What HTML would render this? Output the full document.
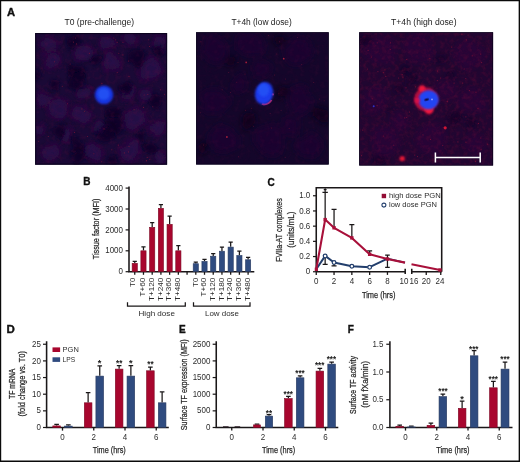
<!DOCTYPE html>
<html lang="en"><head><meta charset="utf-8"><title>Figure</title>
<style>
html,body{margin:0;padding:0;background:#fff}
body{width:520px;height:462px;overflow:hidden}
svg{display:block}
text{font-family:"Liberation Sans",sans-serif}
</style></head><body>
<svg width="520" height="462" viewBox="0 0 520 462">
<defs>
<filter id="b1" x="-50%" y="-50%" width="200%" height="200%"><feGaussianBlur stdDeviation="1"/></filter>
<filter id="b2" x="-50%" y="-50%" width="200%" height="200%"><feGaussianBlur stdDeviation="2.2"/></filter>
<filter id="b4" x="-50%" y="-50%" width="200%" height="200%"><feGaussianBlur stdDeviation="4"/></filter>
<filter id="b05" x="-50%" y="-50%" width="200%" height="200%"><feGaussianBlur stdDeviation="0.5"/></filter>
<filter id="wob" x="-10%" y="-10%" width="120%" height="120%"><feTurbulence type="fractalNoise" baseFrequency="0.06" numOctaves="2" seed="4" result="t"/><feDisplacementMap in="SourceGraphic" in2="t" scale="10" xChannelSelector="R" yChannelSelector="G"/></filter>
<filter id="spk" x="0" y="0" width="100%" height="100%" color-interpolation-filters="sRGB"><feTurbulence type="fractalNoise" baseFrequency="0.22" numOctaves="3" seed="7"/><feColorMatrix type="matrix" values="0 0 0 0 0.55  0 0 0 0 0.05  0 0 0 0 0.22  1.5 0 0 0 -0.62"/></filter>
<filter id="spk2" x="0" y="0" width="100%" height="100%" color-interpolation-filters="sRGB"><feTurbulence type="fractalNoise" baseFrequency="0.2" numOctaves="3" seed="11"/><feColorMatrix type="matrix" values="0 0 0 0 0.42  0 0 0 0 0.05  0 0 0 0 0.25  1.6 0 0 0 -0.72"/></filter>
<filter id="wob4" x="-10%" y="-10%" width="120%" height="120%"><feTurbulence type="fractalNoise" baseFrequency="0.05" numOctaves="2" seed="9" result="t"/><feDisplacementMap in="SourceGraphic" in2="t" scale="14" xChannelSelector="R" yChannelSelector="G"/><feGaussianBlur stdDeviation="3.2"/></filter>
<clipPath id="c1"><rect x="35.1" y="33" width="132" height="131.7"/></clipPath>
<clipPath id="c2"><rect x="196.1" y="32.2" width="132.6" height="132.3"/></clipPath>
<clipPath id="c3"><rect x="359.2" y="32.2" width="133.9" height="133.4"/></clipPath>
</defs>
<rect width="520" height="462" fill="#fff"/>

<g clip-path="url(#c1)">
<rect x="35" y="32" width="133" height="133" fill="#1a0936"/>
<g filter="url(#wob)">
<circle cx="49" cy="43" r="10" fill="#300e3e" opacity="0.55" filter="url(#b2)"/>
<circle cx="49" cy="43" r="7.2" fill="#25114c" opacity="0.72" filter="url(#b2)"/>
<circle cx="52" cy="60" r="11" fill="#300e3e" opacity="0.55" filter="url(#b2)"/>
<circle cx="52" cy="60" r="7.9" fill="#25114c" opacity="0.72" filter="url(#b2)"/>
<circle cx="85" cy="52" r="10" fill="#300e3e" opacity="0.55" filter="url(#b2)"/>
<circle cx="85" cy="52" r="7.2" fill="#25114c" opacity="0.72" filter="url(#b2)"/>
<circle cx="107" cy="43" r="9" fill="#300e3e" opacity="0.55" filter="url(#b2)"/>
<circle cx="107" cy="43" r="6.5" fill="#25114c" opacity="0.72" filter="url(#b2)"/>
<circle cx="112" cy="62" r="11" fill="#300e3e" opacity="0.55" filter="url(#b2)"/>
<circle cx="112" cy="62" r="7.9" fill="#25114c" opacity="0.72" filter="url(#b2)"/>
<circle cx="150" cy="69" r="13" fill="#300e3e" opacity="0.55" filter="url(#b2)"/>
<circle cx="150" cy="69" r="9.4" fill="#25114c" opacity="0.72" filter="url(#b2)"/>
<circle cx="160" cy="42" r="9" fill="#300e3e" opacity="0.55" filter="url(#b2)"/>
<circle cx="160" cy="42" r="6.5" fill="#25114c" opacity="0.72" filter="url(#b2)"/>
<circle cx="130" cy="40" r="8" fill="#300e3e" opacity="0.55" filter="url(#b2)"/>
<circle cx="130" cy="40" r="5.8" fill="#25114c" opacity="0.72" filter="url(#b2)"/>
<circle cx="44" cy="100" r="9" fill="#300e3e" opacity="0.55" filter="url(#b2)"/>
<circle cx="44" cy="100" r="6.5" fill="#25114c" opacity="0.72" filter="url(#b2)"/>
<circle cx="58" cy="108" r="13" fill="#300e3e" opacity="0.55" filter="url(#b2)"/>
<circle cx="58" cy="108" r="9.4" fill="#25114c" opacity="0.72" filter="url(#b2)"/>
<circle cx="81" cy="115" r="11" fill="#300e3e" opacity="0.55" filter="url(#b2)"/>
<circle cx="81" cy="115" r="7.9" fill="#25114c" opacity="0.72" filter="url(#b2)"/>
<circle cx="84" cy="92" r="8" fill="#300e3e" opacity="0.55" filter="url(#b2)"/>
<circle cx="84" cy="92" r="5.8" fill="#25114c" opacity="0.72" filter="url(#b2)"/>
<circle cx="135" cy="118" r="14" fill="#300e3e" opacity="0.55" filter="url(#b2)"/>
<circle cx="135" cy="118" r="10.1" fill="#25114c" opacity="0.72" filter="url(#b2)"/>
<circle cx="157" cy="128" r="10" fill="#300e3e" opacity="0.55" filter="url(#b2)"/>
<circle cx="157" cy="128" r="7.2" fill="#25114c" opacity="0.72" filter="url(#b2)"/>
<circle cx="128" cy="92" r="9" fill="#300e3e" opacity="0.55" filter="url(#b2)"/>
<circle cx="128" cy="92" r="6.5" fill="#25114c" opacity="0.72" filter="url(#b2)"/>
<circle cx="146" cy="95" r="7" fill="#300e3e" opacity="0.55" filter="url(#b2)"/>
<circle cx="146" cy="95" r="5.0" fill="#25114c" opacity="0.72" filter="url(#b2)"/>
<circle cx="52" cy="153" r="10" fill="#300e3e" opacity="0.55" filter="url(#b2)"/>
<circle cx="52" cy="153" r="7.2" fill="#25114c" opacity="0.72" filter="url(#b2)"/>
<circle cx="92" cy="153" r="12" fill="#300e3e" opacity="0.55" filter="url(#b2)"/>
<circle cx="92" cy="153" r="8.6" fill="#25114c" opacity="0.72" filter="url(#b2)"/>
<circle cx="130" cy="151" r="13" fill="#300e3e" opacity="0.55" filter="url(#b2)"/>
<circle cx="130" cy="151" r="9.4" fill="#25114c" opacity="0.72" filter="url(#b2)"/>
<circle cx="160" cy="158" r="8" fill="#300e3e" opacity="0.55" filter="url(#b2)"/>
<circle cx="160" cy="158" r="5.8" fill="#25114c" opacity="0.72" filter="url(#b2)"/>
<circle cx="100" cy="128" r="7" fill="#300e3e" opacity="0.55" filter="url(#b2)"/>
<circle cx="100" cy="128" r="5.0" fill="#25114c" opacity="0.72" filter="url(#b2)"/>
<circle cx="40" cy="128" r="7" fill="#300e3e" opacity="0.55" filter="url(#b2)"/>
<circle cx="40" cy="128" r="5.0" fill="#25114c" opacity="0.72" filter="url(#b2)"/>
<circle cx="66" cy="135" r="8" fill="#300e3e" opacity="0.55" filter="url(#b2)"/>
<circle cx="66" cy="135" r="5.8" fill="#25114c" opacity="0.72" filter="url(#b2)"/>
<circle cx="72" cy="41" r="7.8" fill="#0a0428" opacity="0.95" filter="url(#b2)"/>
<circle cx="75" cy="72" r="9.1" fill="#0a0428" opacity="0.95" filter="url(#b2)"/>
<circle cx="76" cy="80" r="7.8" fill="#0a0428" opacity="0.95" filter="url(#b2)"/>
<circle cx="137" cy="57" r="7.8" fill="#0a0428" opacity="0.95" filter="url(#b2)"/>
<circle cx="158" cy="50" r="5.2" fill="#0a0428" opacity="0.95" filter="url(#b2)"/>
<circle cx="125" cy="88" r="6.5" fill="#0a0428" opacity="0.95" filter="url(#b2)"/>
<circle cx="114" cy="112" r="7.8" fill="#0a0428" opacity="0.95" filter="url(#b2)"/>
<circle cx="115" cy="126" r="9.1" fill="#0a0428" opacity="0.95" filter="url(#b2)"/>
<circle cx="106" cy="134" r="7.8" fill="#0a0428" opacity="0.95" filter="url(#b2)"/>
<circle cx="156" cy="101" r="6.5" fill="#0a0428" opacity="0.95" filter="url(#b2)"/>
<circle cx="78" cy="146" r="7.8" fill="#0a0428" opacity="0.95" filter="url(#b2)"/>
<circle cx="79" cy="157" r="6.5" fill="#0a0428" opacity="0.95" filter="url(#b2)"/>
<circle cx="55" cy="85" r="5.2" fill="#0a0428" opacity="0.95" filter="url(#b2)"/>
<circle cx="58" cy="131" r="6.5" fill="#0a0428" opacity="0.95" filter="url(#b2)"/>
<circle cx="151" cy="149" r="6.5" fill="#0a0428" opacity="0.95" filter="url(#b2)"/>
<circle cx="94" cy="60" r="5.2" fill="#0a0428" opacity="0.95" filter="url(#b2)"/>
<circle cx="38" cy="75" r="5.2" fill="#0a0428" opacity="0.95" filter="url(#b2)"/>
<circle cx="112" cy="160" r="5.2" fill="#0a0428" opacity="0.95" filter="url(#b2)"/>
<circle cx="142" cy="138" r="5.2" fill="#0a0428" opacity="0.95" filter="url(#b2)"/>
</g>
<rect x="35" y="32" width="133" height="133" filter="url(#spk2)" opacity="0.3"/>
<circle cx="67.5" cy="103.7" r="0.55" fill="#8a1838" opacity="0.7"/>
<circle cx="84.4" cy="111.3" r="0.55" fill="#8a1838" opacity="0.7"/>
<circle cx="117.1" cy="42.4" r="0.55" fill="#8a1838" opacity="0.7"/>
<circle cx="38.7" cy="141.2" r="0.55" fill="#8a1838" opacity="0.7"/>
<circle cx="70.2" cy="64.0" r="0.55" fill="#8a1838" opacity="0.7"/>
<circle cx="164.4" cy="94.2" r="0.55" fill="#8a1838" opacity="0.7"/>
<circle cx="144.1" cy="95.0" r="0.55" fill="#8a1838" opacity="0.7"/>
<circle cx="118.8" cy="53.3" r="0.55" fill="#8a1838" opacity="0.7"/>
<circle cx="118.3" cy="145.1" r="0.55" fill="#8a1838" opacity="0.7"/>
<circle cx="104.0" cy="128.9" r="0.55" fill="#8a1838" opacity="0.7"/>
<circle cx="122.9" cy="42.2" r="0.55" fill="#8a1838" opacity="0.7"/>
<circle cx="134.1" cy="109.7" r="0.55" fill="#8a1838" opacity="0.7"/>
<circle cx="75.6" cy="38.0" r="0.55" fill="#8a1838" opacity="0.7"/>
<circle cx="147.8" cy="94.5" r="0.55" fill="#8a1838" opacity="0.7"/>
<circle cx="129.0" cy="146.5" r="0.55" fill="#8a1838" opacity="0.7"/>
<circle cx="128.4" cy="151.9" r="0.55" fill="#8a1838" opacity="0.7"/>
<circle cx="87.6" cy="136.5" r="0.55" fill="#8a1838" opacity="0.7"/>
<circle cx="93.9" cy="153.8" r="0.55" fill="#8a1838" opacity="0.7"/>
<circle cx="149.5" cy="46.5" r="0.55" fill="#8a1838" opacity="0.7"/>
<circle cx="54.4" cy="61.8" r="0.55" fill="#8a1838" opacity="0.7"/>
<circle cx="160.6" cy="89.8" r="0.55" fill="#8a1838" opacity="0.7"/>
<circle cx="117.2" cy="72.5" r="0.55" fill="#8a1838" opacity="0.7"/>
<circle cx="101.9" cy="83.4" r="0.55" fill="#8a1838" opacity="0.7"/>
<circle cx="81.9" cy="108.9" r="0.55" fill="#8a1838" opacity="0.7"/>
<circle cx="111.8" cy="149.7" r="0.55" fill="#8a1838" opacity="0.7"/>
<circle cx="124.3" cy="152.9" r="0.55" fill="#8a1838" opacity="0.7"/>
<circle cx="146.6" cy="160.8" r="0.55" fill="#8a1838" opacity="0.7"/>
<circle cx="122.9" cy="54.9" r="0.55" fill="#8a1838" opacity="0.7"/>
<circle cx="147.2" cy="157.5" r="0.55" fill="#8a1838" opacity="0.7"/>
<circle cx="152.8" cy="106.8" r="0.55" fill="#8a1838" opacity="0.7"/>
<circle cx="128.4" cy="61.0" r="0.55" fill="#8a1838" opacity="0.7"/>
<circle cx="143.4" cy="107.4" r="0.55" fill="#8a1838" opacity="0.7"/>
<circle cx="73.5" cy="42.1" r="0.55" fill="#8a1838" opacity="0.7"/>
<circle cx="146.3" cy="160.7" r="0.55" fill="#8a1838" opacity="0.7"/>
<circle cx="48.3" cy="136.5" r="0.55" fill="#8a1838" opacity="0.7"/>
<circle cx="89.5" cy="53.3" r="0.55" fill="#8a1838" opacity="0.7"/>
<circle cx="74.6" cy="132.4" r="0.55" fill="#8a1838" opacity="0.7"/>
<circle cx="148.7" cy="39.7" r="0.55" fill="#8a1838" opacity="0.7"/>
<circle cx="115.7" cy="39.8" r="0.55" fill="#8a1838" opacity="0.7"/>
<circle cx="129.0" cy="76.4" r="0.55" fill="#8a1838" opacity="0.7"/>
<circle cx="149.8" cy="159.5" r="0.55" fill="#8a1838" opacity="0.7"/>
<circle cx="101.7" cy="161.8" r="0.55" fill="#8a1838" opacity="0.7"/>
<circle cx="76.6" cy="43.9" r="0.55" fill="#8a1838" opacity="0.7"/>
<circle cx="113.8" cy="38.0" r="0.55" fill="#8a1838" opacity="0.7"/>
<circle cx="62.3" cy="86.2" r="0.55" fill="#8a1838" opacity="0.7"/>
<circle cx="104" cy="94.8" r="9.3" fill="#1636e0" filter="url(#b1)"/>
<circle cx="103.6" cy="94" r="6" fill="#2450f2" filter="url(#b1)"/>
<rect x="35.1" y="33" width="132" height="131.7" fill="none" stroke="#07021a" stroke-width="2.2" opacity="0.8"/>
</g>
<g clip-path="url(#c2)">
<rect x="196" y="32" width="134" height="133" fill="#14062a"/>
<g filter="url(#wob4)">
<circle cx="215" cy="50" r="14" fill="#1c0834" opacity="0.6"/>
<circle cx="250" cy="45" r="14" fill="#1c0834" opacity="0.6"/>
<circle cx="300" cy="50" r="15" fill="#1c0834" opacity="0.6"/>
<circle cx="215" cy="100" r="13" fill="#1c0834" opacity="0.6"/>
<circle cx="300" cy="100" r="14" fill="#1c0834" opacity="0.6"/>
<circle cx="225" cy="140" r="14" fill="#1c0834" opacity="0.6"/>
<circle cx="270" cy="140" r="15" fill="#1c0834" opacity="0.6"/>
<circle cx="310" cy="145" r="12" fill="#1c0834" opacity="0.6"/>
<circle cx="262" cy="70" r="10" fill="#1c0834" opacity="0.6"/>
<circle cx="240" cy="85" r="9" fill="#1c0834" opacity="0.6"/>
<circle cx="290" cy="125" r="9" fill="#1c0834" opacity="0.6"/>
<circle cx="282" cy="92" r="7" fill="#08031a" opacity="0.85"/>
<circle cx="250" cy="120" r="7" fill="#08031a" opacity="0.85"/>
<circle cx="320" cy="115" r="6" fill="#08031a" opacity="0.85"/>
<circle cx="205" cy="150" r="6" fill="#08031a" opacity="0.85"/>
<circle cx="232" cy="60" r="5" fill="#08031a" opacity="0.85"/>
<circle cx="280" cy="40" r="5" fill="#08031a" opacity="0.85"/>
</g>
<rect x="196" y="32" width="134" height="133" filter="url(#spk2)" opacity="0.2"/>
<circle cx="276.8" cy="54.0" r="0.5" fill="#7a1838" opacity="0.6"/>
<circle cx="203.5" cy="145.1" r="0.5" fill="#7a1838" opacity="0.6"/>
<circle cx="238.5" cy="156.7" r="0.5" fill="#7a1838" opacity="0.6"/>
<circle cx="313.7" cy="82.4" r="0.5" fill="#7a1838" opacity="0.6"/>
<circle cx="257.4" cy="100.6" r="0.5" fill="#7a1838" opacity="0.6"/>
<circle cx="281.1" cy="110.2" r="0.5" fill="#7a1838" opacity="0.6"/>
<circle cx="270.1" cy="113.4" r="0.5" fill="#7a1838" opacity="0.6"/>
<circle cx="319.3" cy="98.9" r="0.5" fill="#7a1838" opacity="0.6"/>
<circle cx="253.6" cy="126.2" r="0.5" fill="#7a1838" opacity="0.6"/>
<circle cx="228.7" cy="72.5" r="0.5" fill="#7a1838" opacity="0.6"/>
<circle cx="324.1" cy="100.7" r="0.5" fill="#7a1838" opacity="0.6"/>
<circle cx="268.7" cy="35.5" r="0.5" fill="#7a1838" opacity="0.6"/>
<circle cx="251.6" cy="108.2" r="0.5" fill="#7a1838" opacity="0.6"/>
<circle cx="200.6" cy="112.8" r="0.5" fill="#7a1838" opacity="0.6"/>
<circle cx="279.6" cy="41.7" r="0.5" fill="#7a1838" opacity="0.6"/>
<circle cx="278.9" cy="93.7" r="0.5" fill="#7a1838" opacity="0.6"/>
<circle cx="285.6" cy="79.1" r="0.5" fill="#7a1838" opacity="0.6"/>
<circle cx="289.2" cy="128.5" r="0.5" fill="#7a1838" opacity="0.6"/>
<circle cx="200.9" cy="41.8" r="0.5" fill="#7a1838" opacity="0.6"/>
<circle cx="285.2" cy="157.3" r="0.5" fill="#7a1838" opacity="0.6"/>
<circle cx="230.4" cy="92.4" r="0.5" fill="#7a1838" opacity="0.6"/>
<circle cx="274.5" cy="75.0" r="0.5" fill="#7a1838" opacity="0.6"/>
<circle cx="245.0" cy="74.0" r="0.5" fill="#7a1838" opacity="0.6"/>
<circle cx="245.6" cy="110.2" r="0.5" fill="#7a1838" opacity="0.6"/>
<circle cx="236.8" cy="82.3" r="0.5" fill="#7a1838" opacity="0.6"/>
<circle cx="297.6" cy="37.4" r="0.5" fill="#7a1838" opacity="0.6"/>
<circle cx="271.4" cy="128.1" r="0.5" fill="#7a1838" opacity="0.6"/>
<circle cx="238.0" cy="62.5" r="0.5" fill="#7a1838" opacity="0.6"/>
<circle cx="301.7" cy="64.6" r="0.5" fill="#7a1838" opacity="0.6"/>
<circle cx="222.2" cy="89.7" r="0.5" fill="#7a1838" opacity="0.6"/>
<circle cx="246.2" cy="62.4" r="0.9" fill="#b0203c" opacity="0.9" filter="url(#b05)"/>
<circle cx="283.7" cy="58.7" r="0.9" fill="#b0203c" opacity="0.9" filter="url(#b05)"/>
<circle cx="226.9" cy="137" r="0.9" fill="#b0203c" opacity="0.9" filter="url(#b05)"/>
<path d="M262 103.5 q5 2.5 9.5 -3.5" stroke="#d8204c" stroke-width="2" fill="none" filter="url(#b05)"/>
<circle cx="272.8" cy="94.4" r="1.1" fill="#d0306c" filter="url(#b05)"/>
<ellipse cx="264.1" cy="93.3" rx="9.1" ry="11.2" fill="#1a3aec" filter="url(#b1)" transform="rotate(12 264.1 93.3)"/>
<ellipse cx="263.6" cy="90" rx="5.5" ry="6.5" fill="#2450f4" filter="url(#b1)"/>
<rect x="196.1" y="32.2" width="132.6" height="132.3" fill="none" stroke="#07021a" stroke-width="1.4"/>
</g>
<g clip-path="url(#c3)">
<rect x="359" y="32" width="135" height="134" fill="#210631"/>
<g filter="url(#wob4)">
<circle cx="380" cy="50" r="14" fill="#2c0a3c" opacity="0.4"/>
<circle cx="420" cy="48" r="15" fill="#2c0a3c" opacity="0.4"/>
<circle cx="470" cy="55" r="15" fill="#2c0a3c" opacity="0.4"/>
<circle cx="375" cy="100" r="13" fill="#2c0a3c" opacity="0.4"/>
<circle cx="470" cy="100" r="14" fill="#2c0a3c" opacity="0.4"/>
<circle cx="385" cy="140" r="14" fill="#2c0a3c" opacity="0.4"/>
<circle cx="430" cy="140" r="15" fill="#2c0a3c" opacity="0.4"/>
<circle cx="475" cy="145" r="12" fill="#2c0a3c" opacity="0.4"/>
<circle cx="445" cy="90" r="10" fill="#2c0a3c" opacity="0.4"/>
<circle cx="400" cy="120" r="9" fill="#2c0a3c" opacity="0.4"/>
<circle cx="405" cy="72" r="4" fill="#0d0424" opacity="0.9"/>
<circle cx="455" cy="117" r="5" fill="#0d0424" opacity="0.9"/>
<circle cx="398" cy="88" r="4" fill="#0d0424" opacity="0.9"/>
<circle cx="380" cy="160" r="6" fill="#0d0424" opacity="0.9"/>
<circle cx="365" cy="40" r="6" fill="#0d0424" opacity="0.9"/>
<circle cx="450" cy="75" r="4" fill="#0d0424" opacity="0.9"/>
<circle cx="412" cy="80" r="3" fill="#0d0424" opacity="0.9"/>
<circle cx="440" cy="60" r="3" fill="#0d0424" opacity="0.9"/>
<circle cx="470" cy="125" r="4" fill="#0d0424" opacity="0.9"/>
<circle cx="390" cy="110" r="3" fill="#0d0424" opacity="0.9"/>
</g>
<rect x="359" y="32" width="135" height="134" filter="url(#spk)" opacity="0.38"/>
<circle cx="451.7" cy="47.1" r="0.6" fill="#a01838" opacity="0.6"/>
<circle cx="402.9" cy="77.1" r="0.6" fill="#a01838" opacity="0.6"/>
<circle cx="469.4" cy="90.6" r="0.6" fill="#a01838" opacity="0.6"/>
<circle cx="472.2" cy="55.8" r="0.6" fill="#a01838" opacity="0.6"/>
<circle cx="404.8" cy="117.9" r="0.6" fill="#a01838" opacity="0.6"/>
<circle cx="476.0" cy="92.2" r="0.6" fill="#a01838" opacity="0.6"/>
<circle cx="390.3" cy="49.6" r="0.6" fill="#a01838" opacity="0.6"/>
<circle cx="429.9" cy="58.6" r="0.6" fill="#a01838" opacity="0.6"/>
<circle cx="465.9" cy="142.2" r="0.6" fill="#a01838" opacity="0.6"/>
<circle cx="384.9" cy="69.9" r="0.6" fill="#a01838" opacity="0.6"/>
<circle cx="465.9" cy="116.8" r="0.6" fill="#a01838" opacity="0.6"/>
<circle cx="465.8" cy="78.5" r="0.6" fill="#a01838" opacity="0.6"/>
<circle cx="377.9" cy="71.7" r="0.6" fill="#a01838" opacity="0.6"/>
<circle cx="464.2" cy="69.0" r="0.6" fill="#a01838" opacity="0.6"/>
<circle cx="406.0" cy="87.8" r="0.6" fill="#a01838" opacity="0.6"/>
<circle cx="415.6" cy="86.8" r="0.6" fill="#a01838" opacity="0.6"/>
<circle cx="480.7" cy="54.1" r="0.6" fill="#a01838" opacity="0.6"/>
<circle cx="361.6" cy="155.7" r="0.6" fill="#a01838" opacity="0.6"/>
<circle cx="475.4" cy="161.3" r="0.6" fill="#a01838" opacity="0.6"/>
<circle cx="417.5" cy="156.6" r="0.6" fill="#a01838" opacity="0.6"/>
<circle cx="481.6" cy="62.6" r="0.6" fill="#a01838" opacity="0.6"/>
<circle cx="457.9" cy="141.9" r="0.6" fill="#a01838" opacity="0.6"/>
<circle cx="447.2" cy="101.0" r="0.6" fill="#a01838" opacity="0.6"/>
<circle cx="398.6" cy="78.0" r="0.6" fill="#a01838" opacity="0.6"/>
<circle cx="390.6" cy="42.8" r="0.6" fill="#a01838" opacity="0.6"/>
<circle cx="437.5" cy="71.0" r="0.6" fill="#a01838" opacity="0.6"/>
<circle cx="466.3" cy="39.8" r="0.6" fill="#a01838" opacity="0.6"/>
<circle cx="478.5" cy="123.5" r="0.6" fill="#a01838" opacity="0.6"/>
<circle cx="481.1" cy="149.7" r="0.6" fill="#a01838" opacity="0.6"/>
<circle cx="478.0" cy="108.4" r="0.6" fill="#a01838" opacity="0.6"/>
<circle cx="362.7" cy="130.1" r="0.6" fill="#a01838" opacity="0.6"/>
<circle cx="383.3" cy="72.7" r="0.6" fill="#a01838" opacity="0.6"/>
<circle cx="447.2" cy="101.7" r="0.6" fill="#a01838" opacity="0.6"/>
<circle cx="414.8" cy="155.1" r="0.6" fill="#a01838" opacity="0.6"/>
<circle cx="440.6" cy="78.0" r="0.6" fill="#a01838" opacity="0.6"/>
<circle cx="393.8" cy="145.2" r="0.6" fill="#a01838" opacity="0.6"/>
<circle cx="423.0" cy="134.9" r="0.6" fill="#a01838" opacity="0.6"/>
<circle cx="406.7" cy="59.5" r="0.6" fill="#a01838" opacity="0.6"/>
<circle cx="430.5" cy="139.4" r="0.6" fill="#a01838" opacity="0.6"/>
<circle cx="383.3" cy="136.1" r="0.6" fill="#a01838" opacity="0.6"/>
<circle cx="480.8" cy="138.0" r="0.6" fill="#a01838" opacity="0.6"/>
<circle cx="468.1" cy="35.0" r="0.6" fill="#a01838" opacity="0.6"/>
<circle cx="442.7" cy="145.3" r="0.6" fill="#a01838" opacity="0.6"/>
<circle cx="367.5" cy="69.0" r="0.6" fill="#a01838" opacity="0.6"/>
<circle cx="395.9" cy="102.0" r="0.6" fill="#a01838" opacity="0.6"/>
<circle cx="416.0" cy="95.0" r="0.6" fill="#a01838" opacity="0.6"/>
<circle cx="461.9" cy="34.2" r="0.6" fill="#a01838" opacity="0.6"/>
<circle cx="368.1" cy="50.4" r="0.6" fill="#a01838" opacity="0.6"/>
<circle cx="377.2" cy="42.8" r="0.6" fill="#a01838" opacity="0.6"/>
<circle cx="487.7" cy="144.2" r="0.6" fill="#a01838" opacity="0.6"/>
<circle cx="372.2" cy="98.8" r="0.6" fill="#a01838" opacity="0.6"/>
<circle cx="402.1" cy="74.6" r="0.6" fill="#a01838" opacity="0.6"/>
<circle cx="406.7" cy="117.5" r="0.6" fill="#a01838" opacity="0.6"/>
<circle cx="437.3" cy="80.5" r="0.6" fill="#a01838" opacity="0.6"/>
<circle cx="385.8" cy="76.4" r="0.6" fill="#a01838" opacity="0.6"/>
<circle cx="377.1" cy="105.7" r="0.6" fill="#a01838" opacity="0.6"/>
<circle cx="454.1" cy="83.1" r="0.6" fill="#a01838" opacity="0.6"/>
<circle cx="371.4" cy="57.0" r="0.6" fill="#a01838" opacity="0.6"/>
<circle cx="409.5" cy="112.0" r="0.6" fill="#a01838" opacity="0.6"/>
<circle cx="462.7" cy="83.1" r="0.6" fill="#a01838" opacity="0.6"/>
<circle cx="426" cy="99.3" r="11.8" fill="#b80e3c" filter="url(#b1)"/>
<circle cx="422" cy="88.6" r="3.4" fill="#f0143c" filter="url(#b1)"/>
<circle cx="429" cy="109.6" r="4.6" fill="#f0143c" filter="url(#b1)"/>
<ellipse cx="428.6" cy="99.8" rx="10.2" ry="9.5" fill="#2444f2" filter="url(#b1)"/>
<circle cx="417.4" cy="100.4" r="2.6" fill="#e0104c" opacity="0.85" filter="url(#b1)"/>
<ellipse cx="426.6" cy="99.6" rx="2.4" ry="1.2" fill="#120a44" filter="url(#b05)" transform="rotate(-15 426.6 99.6)"/>
<circle cx="432" cy="99.4" r="0.9" fill="#90a0ff" filter="url(#b05)"/>
<circle cx="402.2" cy="158.6" r="2.7" fill="#e81535" filter="url(#b1)"/>
<circle cx="445.2" cy="127.8" r="1.6" fill="#d01535" filter="url(#b05)"/>
<circle cx="373.7" cy="106.3" r="1" fill="#3030c0" filter="url(#b05)"/>
<path d="M435 157.4H480.6M435.4 152.4V162.4M480.2 152.4V162.4" stroke="#fff" stroke-width="1.5" fill="none"/>
<rect x="359.2" y="32.2" width="133.9" height="133.4" fill="none" stroke="#07021a" stroke-width="1.4"/>
</g>
<text x="99.30" y="24.60" font-size="8.5" text-anchor="middle" textLength="69.5" lengthAdjust="spacingAndGlyphs" fill="#222">T0 (pre-challenge)</text>
<text x="261.60" y="24.60" font-size="8.5" text-anchor="middle" textLength="60.4" lengthAdjust="spacingAndGlyphs" fill="#222">T+4h (low dose)</text>
<text x="423.80" y="24.60" font-size="8.5" text-anchor="middle" textLength="65.5" lengthAdjust="spacingAndGlyphs" fill="#222">T+4h (high dose)</text>
<text x="6.90" y="16.00" font-size="10" font-weight="bold" textLength="8.1" lengthAdjust="spacingAndGlyphs" fill="#111" stroke="#111" stroke-width="0.35">A</text>
<text x="83.20" y="185.10" font-size="10" font-weight="bold" fill="#111" stroke="#111" stroke-width="0.35">B</text>
<text x="267.60" y="185.70" font-size="10" font-weight="bold" fill="#111" stroke="#111" stroke-width="0.35">C</text>
<text x="6.60" y="332.60" font-size="10" font-weight="bold" textLength="8.3" lengthAdjust="spacingAndGlyphs" fill="#111" stroke="#111" stroke-width="0.35">D</text>
<text x="178.90" y="332.50" font-size="10" font-weight="bold" fill="#111" stroke="#111" stroke-width="0.35">E</text>
<text x="347.80" y="332.60" font-size="10" font-weight="bold" fill="#111" stroke="#111" stroke-width="0.35">F</text>
<path d="M129 186.5V271.7H254.3" stroke="#1a1718" stroke-width="1.55" fill="none"/>
<path d="M125.6 271.70H129" stroke="#1a1718" stroke-width="1.2"/>
<text transform="translate(123.00 274.30) scale(0.94 1)" font-size="8.5" text-anchor="end" fill="#2c2c2c">0</text>
<path d="M125.6 250.80H129" stroke="#1a1718" stroke-width="1.2"/>
<text transform="translate(123.00 253.40) scale(0.94 1)" font-size="8.5" text-anchor="end" fill="#2c2c2c">1000</text>
<path d="M125.6 229.90H129" stroke="#1a1718" stroke-width="1.2"/>
<text transform="translate(123.00 232.50) scale(0.94 1)" font-size="8.5" text-anchor="end" fill="#2c2c2c">2000</text>
<path d="M125.6 209.00H129" stroke="#1a1718" stroke-width="1.2"/>
<text transform="translate(123.00 211.60) scale(0.94 1)" font-size="8.5" text-anchor="end" fill="#2c2c2c">3000</text>
<path d="M125.6 188.10H129" stroke="#1a1718" stroke-width="1.2"/>
<text transform="translate(123.00 190.70) scale(0.94 1)" font-size="8.5" text-anchor="end" fill="#2c2c2c">4000</text>
<path d="M134.75 271.7V274.8" stroke="#1a1718" stroke-width="1.3"/>
<path d="M143.47 271.7V274.8" stroke="#1a1718" stroke-width="1.3"/>
<path d="M152.19 271.7V274.8" stroke="#1a1718" stroke-width="1.3"/>
<path d="M160.91 271.7V274.8" stroke="#1a1718" stroke-width="1.3"/>
<path d="M169.63 271.7V274.8" stroke="#1a1718" stroke-width="1.3"/>
<path d="M178.35 271.7V274.8" stroke="#1a1718" stroke-width="1.3"/>
<path d="M187.07 271.7V274.8" stroke="#1a1718" stroke-width="1.3"/>
<path d="M195.79 271.7V274.8" stroke="#1a1718" stroke-width="1.3"/>
<path d="M204.51 271.7V274.8" stroke="#1a1718" stroke-width="1.3"/>
<path d="M213.23 271.7V274.8" stroke="#1a1718" stroke-width="1.3"/>
<path d="M221.95 271.7V274.8" stroke="#1a1718" stroke-width="1.3"/>
<path d="M230.67 271.7V274.8" stroke="#1a1718" stroke-width="1.3"/>
<path d="M239.39 271.7V274.8" stroke="#1a1718" stroke-width="1.3"/>
<path d="M248.11 271.7V274.8" stroke="#1a1718" stroke-width="1.3"/>
<path d="M134.75 263.00V261.30M132.65 261.30H136.85" stroke="#1a1718" stroke-width="1.25" fill="none"/>
<rect x="132.15" y="263.30" width="5.20" height="8.40" fill="#a8062e" stroke="#7c0a26" stroke-width="0.6"/>
<path d="M143.47 250.50V246.80M141.37 246.80H145.57" stroke="#1a1718" stroke-width="1.25" fill="none"/>
<rect x="140.87" y="250.80" width="5.20" height="20.90" fill="#a8062e" stroke="#7c0a26" stroke-width="0.6"/>
<path d="M152.19 227.00V222.50M150.09 222.50H154.29" stroke="#1a1718" stroke-width="1.25" fill="none"/>
<rect x="149.59" y="227.30" width="5.20" height="44.40" fill="#a8062e" stroke="#7c0a26" stroke-width="0.6"/>
<path d="M160.91 208.00V204.50M158.81 204.50H163.01" stroke="#1a1718" stroke-width="1.25" fill="none"/>
<rect x="158.31" y="208.30" width="5.20" height="63.40" fill="#a8062e" stroke="#7c0a26" stroke-width="0.6"/>
<path d="M169.63 224.00V216.00M167.53 216.00H171.73" stroke="#1a1718" stroke-width="1.25" fill="none"/>
<rect x="167.03" y="224.30" width="5.20" height="47.40" fill="#a8062e" stroke="#7c0a26" stroke-width="0.6"/>
<path d="M178.35 250.50V245.50M176.25 245.50H180.45" stroke="#1a1718" stroke-width="1.25" fill="none"/>
<rect x="175.75" y="250.80" width="5.20" height="20.90" fill="#a8062e" stroke="#7c0a26" stroke-width="0.6"/>
<path d="M195.79 263.40V262.00M193.69 262.00H197.89" stroke="#1a1718" stroke-width="1.25" fill="none"/>
<rect x="193.19" y="263.70" width="5.20" height="8.00" fill="#2f4b7f" stroke="#2a3b60" stroke-width="0.6"/>
<path d="M204.51 261.10V259.30M202.41 259.30H206.61" stroke="#1a1718" stroke-width="1.25" fill="none"/>
<rect x="201.91" y="261.40" width="5.20" height="10.30" fill="#2f4b7f" stroke="#2a3b60" stroke-width="0.6"/>
<path d="M213.23 255.90V253.60M211.13 253.60H215.33" stroke="#1a1718" stroke-width="1.25" fill="none"/>
<rect x="210.63" y="256.20" width="5.20" height="15.50" fill="#2f4b7f" stroke="#2a3b60" stroke-width="0.6"/>
<path d="M221.95 250.90V247.00M219.85 247.00H224.05" stroke="#1a1718" stroke-width="1.25" fill="none"/>
<rect x="219.35" y="251.20" width="5.20" height="20.50" fill="#2f4b7f" stroke="#2a3b60" stroke-width="0.6"/>
<path d="M230.67 246.80V242.00M228.57 242.00H232.77" stroke="#1a1718" stroke-width="1.25" fill="none"/>
<rect x="228.07" y="247.10" width="5.20" height="24.60" fill="#2f4b7f" stroke="#2a3b60" stroke-width="0.6"/>
<path d="M239.39 255.20V251.10M237.29 251.10H241.49" stroke="#1a1718" stroke-width="1.25" fill="none"/>
<rect x="236.79" y="255.50" width="5.20" height="16.20" fill="#2f4b7f" stroke="#2a3b60" stroke-width="0.6"/>
<path d="M248.11 259.50V257.30M246.01 257.30H250.21" stroke="#1a1718" stroke-width="1.25" fill="none"/>
<rect x="245.51" y="259.80" width="5.20" height="11.90" fill="#2f4b7f" stroke="#2a3b60" stroke-width="0.6"/>
<text transform="translate(135.15 277.70) rotate(-90)" font-size="7.6" text-anchor="end" textLength="9.2" lengthAdjust="spacingAndGlyphs" fill="#2c2c2c">T0</text>
<text transform="translate(145.07 277.70) rotate(-90)" font-size="7.6" text-anchor="end" textLength="18.7" lengthAdjust="spacingAndGlyphs" fill="#2c2c2c">T+60</text>
<text transform="translate(153.79 277.70) rotate(-90)" font-size="7.6" text-anchor="end" textLength="23.4" lengthAdjust="spacingAndGlyphs" fill="#2c2c2c">T+120</text>
<text transform="translate(162.51 277.70) rotate(-90)" font-size="7.6" text-anchor="end" textLength="23.4" lengthAdjust="spacingAndGlyphs" fill="#2c2c2c">T+240</text>
<text transform="translate(171.23 277.70) rotate(-90)" font-size="7.6" text-anchor="end" textLength="23.4" lengthAdjust="spacingAndGlyphs" fill="#2c2c2c">T+360</text>
<text transform="translate(179.95 277.70) rotate(-90)" font-size="7.6" text-anchor="end" textLength="23.4" lengthAdjust="spacingAndGlyphs" fill="#2c2c2c">T+480</text>
<text transform="translate(197.59 277.70) rotate(-90)" font-size="7.6" text-anchor="end" textLength="9.2" lengthAdjust="spacingAndGlyphs" fill="#2c2c2c">T0</text>
<text transform="translate(206.31 277.70) rotate(-90)" font-size="7.6" text-anchor="end" textLength="18.7" lengthAdjust="spacingAndGlyphs" fill="#2c2c2c">T+60</text>
<text transform="translate(215.03 277.70) rotate(-90)" font-size="7.6" text-anchor="end" textLength="23.4" lengthAdjust="spacingAndGlyphs" fill="#2c2c2c">T+120</text>
<text transform="translate(223.75 277.70) rotate(-90)" font-size="7.6" text-anchor="end" textLength="23.4" lengthAdjust="spacingAndGlyphs" fill="#2c2c2c">T+180</text>
<text transform="translate(232.47 277.70) rotate(-90)" font-size="7.6" text-anchor="end" textLength="23.4" lengthAdjust="spacingAndGlyphs" fill="#2c2c2c">T+240</text>
<text transform="translate(241.19 277.70) rotate(-90)" font-size="7.6" text-anchor="end" textLength="23.4" lengthAdjust="spacingAndGlyphs" fill="#2c2c2c">T+360</text>
<text transform="translate(249.91 277.70) rotate(-90)" font-size="7.6" text-anchor="end" textLength="23.4" lengthAdjust="spacingAndGlyphs" fill="#2c2c2c">T+480</text>
<path d="M127.5 302.3V306H185.3V302.3M193.5 302.3V306H250V302.3" stroke="#1a1718" stroke-width="1.25" fill="none"/>
<text x="156.70" y="316.00" font-size="7.8" text-anchor="middle" textLength="36.4" lengthAdjust="spacingAndGlyphs" fill="#2c2c2c">High dose</text>
<text x="222.00" y="316.00" font-size="7.8" text-anchor="middle" textLength="34" lengthAdjust="spacingAndGlyphs" fill="#2c2c2c">Low dose</text>
<text transform="translate(98.50 228.90) rotate(-90)" font-size="8.9" text-anchor="middle" textLength="60.6" lengthAdjust="spacingAndGlyphs" fill="#2c2c2c" stroke="#262626" stroke-width="0.25">Tissue factor (MFI)</text>
<path d="M316.25 271.75V187.8H441.7V271.75" stroke="#1a1718" stroke-width="1.55" fill="none"/>
<path d="M316.25 271.75H405.2M405.2 268.8V274M411.75 268.8V274M411.75 271.75H441.7" stroke="#1a1718" stroke-width="1.55" fill="none"/>
<path d="M313 271.75H316.25" stroke="#1a1718" stroke-width="1.2"/>
<text transform="translate(310.30 274.35) scale(0.94 1)" font-size="8.5" text-anchor="end" fill="#2c2c2c">0</text>
<path d="M313 256.55H316.25" stroke="#1a1718" stroke-width="1.2"/>
<text transform="translate(310.30 259.15) scale(0.94 1)" font-size="8.5" text-anchor="end" fill="#2c2c2c">0.2</text>
<path d="M313 241.35H316.25" stroke="#1a1718" stroke-width="1.2"/>
<text transform="translate(310.30 243.95) scale(0.94 1)" font-size="8.5" text-anchor="end" fill="#2c2c2c">0.4</text>
<path d="M313 226.15H316.25" stroke="#1a1718" stroke-width="1.2"/>
<text transform="translate(310.30 228.75) scale(0.94 1)" font-size="8.5" text-anchor="end" fill="#2c2c2c">0.6</text>
<path d="M313 210.95H316.25" stroke="#1a1718" stroke-width="1.2"/>
<text transform="translate(310.30 213.55) scale(0.94 1)" font-size="8.5" text-anchor="end" fill="#2c2c2c">0.8</text>
<path d="M313 195.75H316.25" stroke="#1a1718" stroke-width="1.2"/>
<text transform="translate(310.30 198.35) scale(0.94 1)" font-size="8.5" text-anchor="end" fill="#2c2c2c">1.0</text>
<path d="M316.25 271.75V274.9" stroke="#1a1718" stroke-width="1.3"/>
<text transform="translate(316.25 284.00) scale(0.94 1)" font-size="8.5" text-anchor="middle" fill="#2c2c2c">0</text>
<path d="M334.05 271.75V274.9" stroke="#1a1718" stroke-width="1.3"/>
<text transform="translate(334.05 284.00) scale(0.94 1)" font-size="8.5" text-anchor="middle" fill="#2c2c2c">2</text>
<path d="M351.85 271.75V274.9" stroke="#1a1718" stroke-width="1.3"/>
<text transform="translate(351.85 284.00) scale(0.94 1)" font-size="8.5" text-anchor="middle" fill="#2c2c2c">4</text>
<path d="M369.65 271.75V274.9" stroke="#1a1718" stroke-width="1.3"/>
<text transform="translate(369.65 284.00) scale(0.94 1)" font-size="8.5" text-anchor="middle" fill="#2c2c2c">6</text>
<path d="M387.45 271.75V274.9" stroke="#1a1718" stroke-width="1.3"/>
<text transform="translate(387.45 284.00) scale(0.94 1)" font-size="8.5" text-anchor="middle" fill="#2c2c2c">8</text>
<text transform="translate(404.00 284.00) scale(0.94 1)" font-size="8.5" text-anchor="middle" fill="#2c2c2c">10</text>
<text transform="translate(414.00 284.00) scale(0.94 1)" font-size="8.5" text-anchor="middle" fill="#2c2c2c">16</text>
<path d="M426.25 271.75V274.9" stroke="#1a1718" stroke-width="1.3"/>
<text transform="translate(426.25 284.00) scale(0.94 1)" font-size="8.5" text-anchor="middle" fill="#2c2c2c">20</text>
<path d="M440.75 271.75V274.9" stroke="#1a1718" stroke-width="1.3"/>
<text transform="translate(440.00 284.00) scale(0.94 1)" font-size="8.5" text-anchor="middle" fill="#2c2c2c">24</text>
<path d="M325.15 219.60V192.30M322.45 192.30H327.85" stroke="#1a1718" stroke-width="1.25" fill="none"/>
<path d="M325.15 192V188.3M323.75 189.7H326.55" stroke="#1a1718" stroke-width="1.2"/>
<path d="M334.05 227.80V209.30M331.55 209.30H336.55" stroke="#1a1718" stroke-width="1.25" fill="none"/>
<path d="M351.85 237.90V224.70M349.35 224.70H354.35" stroke="#1a1718" stroke-width="1.25" fill="none"/>
<path d="M369.65 254.30V250.80M367.15 250.80H372.15" stroke="#1a1718" stroke-width="1.25" fill="none"/>
<path d="M325.15 255.90V264.40M322.65 264.40H327.65" stroke="#1a1718" stroke-width="1.25" fill="none"/>
<path d="M334.05 262.50V265.80M331.55 265.80H336.55" stroke="#1a1718" stroke-width="1.25" fill="none"/>
<polyline points="316.25,269.30 325.15,255.90 334.05,262.50 351.85,266.20 369.65,267.20 387.45,258.60 405,262.6" fill="none" stroke="#223e6c" stroke-width="2" stroke-linejoin="round"/>
<polyline points="316.25,269.30 325.15,219.60 334.05,227.80 351.85,237.90 369.65,254.30 387.45,259.00 405,262.6" fill="none" stroke="#a8103a" stroke-width="2.1" stroke-linejoin="round"/>
<path d="M411.5 264.2L440 270" stroke="#a8103a" stroke-width="2.1" fill="none"/>
<path d="M387.45 255.20V267.30M385.15 255.20H389.75M385.15 267.30H389.75" stroke="#1a1718" stroke-width="1.25" fill="none"/>
<rect x="323.45" y="217.90" width="3.4" height="3.4" fill="#a8103a"/>
<rect x="332.35" y="226.10" width="3.4" height="3.4" fill="#a8103a"/>
<rect x="350.15" y="236.20" width="3.4" height="3.4" fill="#a8103a"/>
<rect x="367.95" y="252.60" width="3.4" height="3.4" fill="#a8103a"/>
<rect x="385.75" y="257.30" width="3.4" height="3.4" fill="#a8103a"/>
<rect x="314.75" y="267.60" width="3.2" height="3.4" fill="#a8103a"/>
<rect x="438.3" y="268.3" width="3.4" height="3.4" fill="#a8103a"/>
<circle cx="325.15" cy="255.90" r="1.85" fill="#fff" stroke="#223e6c" stroke-width="1.25"/>
<circle cx="334.05" cy="262.50" r="1.85" fill="#fff" stroke="#223e6c" stroke-width="1.25"/>
<circle cx="351.85" cy="266.20" r="1.85" fill="#fff" stroke="#223e6c" stroke-width="1.25"/>
<circle cx="369.65" cy="267.20" r="1.85" fill="#fff" stroke="#223e6c" stroke-width="1.25"/>
<rect x="381.7" y="193.8" width="4.4" height="4.4" fill="#930c34"/>
<text x="389.00" y="197.60" font-size="7.5" textLength="51.7" lengthAdjust="spacingAndGlyphs" fill="#2c2c2c">high dose PGN</text>
<circle cx="383.9" cy="205.1" r="2" fill="#fff" stroke="#223e6c" stroke-width="1.05"/>
<text x="389.00" y="207.10" font-size="7.5" textLength="48" lengthAdjust="spacingAndGlyphs" fill="#2c2c2c">low dose PGN</text>
<text transform="translate(281.80 230.00) rotate(-90)" font-size="8.9" text-anchor="middle" textLength="63.5" lengthAdjust="spacingAndGlyphs" fill="#2c2c2c" stroke="#262626" stroke-width="0.25">FVIIa-AT complexes</text>
<text transform="translate(293.60 229.60) rotate(-90)" font-size="8.9" text-anchor="middle" textLength="36.2" lengthAdjust="spacingAndGlyphs" fill="#2c2c2c" stroke="#262626" stroke-width="0.25">(units/mL)</text>
<text x="378.70" y="298.20" font-size="9.2" text-anchor="middle" textLength="33.5" lengthAdjust="spacingAndGlyphs" fill="#2c2c2c" stroke="#262626" stroke-width="0.25">Time (hrs)</text>
<path d="M46.6 341.2V427.5H168.8" stroke="#1a1718" stroke-width="1.55" fill="none"/>
<path d="M43.0 427.50H46.6" stroke="#1a1718" stroke-width="1.2"/>
<text transform="translate(41.00 430.10) scale(0.94 1)" font-size="8.5" text-anchor="end" fill="#2c2c2c">0</text>
<path d="M43.0 410.85H46.6" stroke="#1a1718" stroke-width="1.2"/>
<text transform="translate(41.00 413.45) scale(0.94 1)" font-size="8.5" text-anchor="end" fill="#2c2c2c">5</text>
<path d="M43.0 394.20H46.6" stroke="#1a1718" stroke-width="1.2"/>
<text transform="translate(41.00 396.80) scale(0.94 1)" font-size="8.5" text-anchor="end" fill="#2c2c2c">10</text>
<path d="M43.0 377.55H46.6" stroke="#1a1718" stroke-width="1.2"/>
<text transform="translate(41.00 380.15) scale(0.94 1)" font-size="8.5" text-anchor="end" fill="#2c2c2c">15</text>
<path d="M43.0 360.90H46.6" stroke="#1a1718" stroke-width="1.2"/>
<text transform="translate(41.00 363.50) scale(0.94 1)" font-size="8.5" text-anchor="end" fill="#2c2c2c">20</text>
<path d="M43.0 344.25H46.6" stroke="#1a1718" stroke-width="1.2"/>
<text transform="translate(41.00 346.85) scale(0.94 1)" font-size="8.5" text-anchor="end" fill="#2c2c2c">25</text>
<path d="M62.50 427.5V430.6" stroke="#1a1718" stroke-width="1.3"/>
<text transform="translate(62.50 439.60) scale(0.94 1)" font-size="8.5" text-anchor="middle" fill="#2c2c2c">0</text>
<path d="M93.75 427.5V430.6" stroke="#1a1718" stroke-width="1.3"/>
<text transform="translate(93.75 439.60) scale(0.94 1)" font-size="8.5" text-anchor="middle" fill="#2c2c2c">2</text>
<path d="M125.00 427.5V430.6" stroke="#1a1718" stroke-width="1.3"/>
<text transform="translate(125.00 439.60) scale(0.94 1)" font-size="8.5" text-anchor="middle" fill="#2c2c2c">4</text>
<path d="M156.25 427.5V430.6" stroke="#1a1718" stroke-width="1.3"/>
<text transform="translate(156.25 439.60) scale(0.94 1)" font-size="8.5" text-anchor="middle" fill="#2c2c2c">6</text>
<path d="M56.62 425.60V424.30M54.33 424.30H58.92" stroke="#1a1718" stroke-width="1.25" fill="none"/>
<rect x="52.80" y="425.90" width="7.65" height="1.60" fill="#a8062e" stroke="#7c0a26" stroke-width="0.6"/>
<path d="M68.38 425.80V424.80M66.08 424.80H70.67" stroke="#1a1718" stroke-width="1.25" fill="none"/>
<rect x="64.55" y="426.10" width="7.65" height="1.40" fill="#2f4b7f" stroke="#2a3b60" stroke-width="0.6"/>
<path d="M88.12 402.50V392.50M85.83 392.50H90.42" stroke="#1a1718" stroke-width="1.25" fill="none"/>
<rect x="84.30" y="402.80" width="7.65" height="24.70" fill="#a8062e" stroke="#7c0a26" stroke-width="0.6"/>
<path d="M99.75 375.80V365.80M97.45 365.80H102.05" stroke="#1a1718" stroke-width="1.25" fill="none"/>
<rect x="95.90" y="376.10" width="7.70" height="51.40" fill="#2f4b7f" stroke="#2a3b60" stroke-width="0.6"/>
<path d="M119.12 368.80V365.60M116.83 365.60H121.42" stroke="#1a1718" stroke-width="1.25" fill="none"/>
<rect x="115.30" y="369.10" width="7.65" height="58.40" fill="#a8062e" stroke="#7c0a26" stroke-width="0.6"/>
<path d="M130.88 375.80V365.50M128.57 365.50H133.18" stroke="#1a1718" stroke-width="1.25" fill="none"/>
<rect x="127.05" y="376.10" width="7.65" height="51.40" fill="#2f4b7f" stroke="#2a3b60" stroke-width="0.6"/>
<path d="M150.38 370.50V367.00M148.07 367.00H152.68" stroke="#1a1718" stroke-width="1.25" fill="none"/>
<rect x="146.55" y="370.80" width="7.65" height="56.70" fill="#a8062e" stroke="#7c0a26" stroke-width="0.6"/>
<path d="M162.12 402.50V391.80M159.82 391.80H164.43" stroke="#1a1718" stroke-width="1.25" fill="none"/>
<rect x="158.30" y="402.80" width="7.65" height="24.70" fill="#2f4b7f" stroke="#2a3b60" stroke-width="0.6"/>
<text x="99.60" y="366.20" font-size="9.2" text-anchor="middle" font-weight="bold" fill="#1a1a1a">*</text>
<text x="119.20" y="365.60" font-size="9.2" text-anchor="middle" font-weight="bold" textLength="6.3" lengthAdjust="spacingAndGlyphs" fill="#1a1a1a">**</text>
<text x="130.80" y="365.60" font-size="9.2" text-anchor="middle" font-weight="bold" fill="#1a1a1a">*</text>
<text x="150.40" y="366.80" font-size="9.2" text-anchor="middle" font-weight="bold" textLength="6.3" lengthAdjust="spacingAndGlyphs" fill="#1a1a1a">**</text>
<rect x="52.5" y="347.4" width="7.6" height="4.6" fill="#a8062e"/>
<rect x="52.5" y="357.3" width="7.6" height="4.6" fill="#2f4b7f"/>
<text x="62.60" y="352.20" font-size="7.6" textLength="16.2" lengthAdjust="spacingAndGlyphs" fill="#2c2c2c">PGN</text>
<text x="62.60" y="362.00" font-size="7.6" textLength="12.6" lengthAdjust="spacingAndGlyphs" fill="#2c2c2c">LPS</text>
<text transform="translate(15.00 383.80) rotate(-90)" font-size="8.9" text-anchor="middle" textLength="30.3" lengthAdjust="spacingAndGlyphs" fill="#2c2c2c" stroke="#262626" stroke-width="0.25">TF mRNA</text>
<text transform="translate(24.60 383.80) rotate(-90)" font-size="8.9" text-anchor="middle" textLength="65.3" lengthAdjust="spacingAndGlyphs" fill="#2c2c2c" stroke="#262626" stroke-width="0.25">(fold change vs. T0)</text>
<text x="109.30" y="453.40" font-size="9.2" text-anchor="middle" textLength="33" lengthAdjust="spacingAndGlyphs" fill="#2c2c2c" stroke="#262626" stroke-width="0.25">Time (hrs)</text>
<path d="M216.25 341.2V427.5H338.3" stroke="#1a1718" stroke-width="1.55" fill="none"/>
<path d="M212.65 427.50H216.25" stroke="#1a1718" stroke-width="1.2"/>
<text transform="translate(210.40 430.10) scale(0.94 1)" font-size="8.5" text-anchor="end" fill="#2c2c2c">0</text>
<path d="M212.65 410.85H216.25" stroke="#1a1718" stroke-width="1.2"/>
<text transform="translate(210.40 413.45) scale(0.94 1)" font-size="8.5" text-anchor="end" fill="#2c2c2c">500</text>
<path d="M212.65 394.20H216.25" stroke="#1a1718" stroke-width="1.2"/>
<text transform="translate(210.40 396.80) scale(0.94 1)" font-size="8.5" text-anchor="end" fill="#2c2c2c">1000</text>
<path d="M212.65 377.55H216.25" stroke="#1a1718" stroke-width="1.2"/>
<text transform="translate(210.40 380.15) scale(0.94 1)" font-size="8.5" text-anchor="end" fill="#2c2c2c">1500</text>
<path d="M212.65 360.90H216.25" stroke="#1a1718" stroke-width="1.2"/>
<text transform="translate(210.40 363.50) scale(0.94 1)" font-size="8.5" text-anchor="end" fill="#2c2c2c">2000</text>
<path d="M212.65 344.25H216.25" stroke="#1a1718" stroke-width="1.2"/>
<text transform="translate(210.40 346.85) scale(0.94 1)" font-size="8.5" text-anchor="end" fill="#2c2c2c">2500</text>
<path d="M231.75 427.5V430.6" stroke="#1a1718" stroke-width="1.3"/>
<text transform="translate(231.75 439.60) scale(0.94 1)" font-size="8.5" text-anchor="middle" fill="#2c2c2c">0</text>
<path d="M263.00 427.5V430.6" stroke="#1a1718" stroke-width="1.3"/>
<text transform="translate(263.00 439.60) scale(0.94 1)" font-size="8.5" text-anchor="middle" fill="#2c2c2c">2</text>
<path d="M294.25 427.5V430.6" stroke="#1a1718" stroke-width="1.3"/>
<text transform="translate(294.25 439.60) scale(0.94 1)" font-size="8.5" text-anchor="middle" fill="#2c2c2c">4</text>
<path d="M325.50 427.5V430.6" stroke="#1a1718" stroke-width="1.3"/>
<text transform="translate(325.50 439.60) scale(0.94 1)" font-size="8.5" text-anchor="middle" fill="#2c2c2c">6</text>
<path d="M257.00 424.60V424.00M254.70 424.00H259.30" stroke="#1a1718" stroke-width="1.25" fill="none"/>
<rect x="253.55" y="424.90" width="6.90" height="2.60" fill="#a8062e" stroke="#7c0a26" stroke-width="0.6"/>
<path d="M269.00 415.80V414.50M266.70 414.50H271.30" stroke="#1a1718" stroke-width="1.25" fill="none"/>
<rect x="265.30" y="416.10" width="7.40" height="11.40" fill="#2f4b7f" stroke="#2a3b60" stroke-width="0.6"/>
<path d="M288.38 398.30V396.30M286.07 396.30H290.68" stroke="#1a1718" stroke-width="1.25" fill="none"/>
<rect x="284.55" y="398.60" width="7.65" height="28.90" fill="#a8062e" stroke="#7c0a26" stroke-width="0.6"/>
<path d="M300.12 377.50V375.80M297.82 375.80H302.43" stroke="#1a1718" stroke-width="1.25" fill="none"/>
<rect x="296.30" y="377.80" width="7.65" height="49.70" fill="#2f4b7f" stroke="#2a3b60" stroke-width="0.6"/>
<path d="M319.88 370.80V368.30M317.57 368.30H322.18" stroke="#1a1718" stroke-width="1.25" fill="none"/>
<rect x="316.05" y="371.10" width="7.65" height="56.40" fill="#a8062e" stroke="#7c0a26" stroke-width="0.6"/>
<path d="M331.62 363.80V362.00M329.32 362.00H333.93" stroke="#1a1718" stroke-width="1.25" fill="none"/>
<rect x="327.80" y="364.10" width="7.65" height="63.40" fill="#2f4b7f" stroke="#2a3b60" stroke-width="0.6"/>
<path d="M223 426.5H228.6M234.6 426.5H240.2" stroke="#2a1a22" stroke-width="0.9" opacity="0.8"/>
<text x="269.00" y="415.60" font-size="9.2" text-anchor="middle" font-weight="bold" textLength="6.3" lengthAdjust="spacingAndGlyphs" fill="#1a1a1a">**</text>
<text x="288.30" y="396.60" font-size="9.2" text-anchor="middle" font-weight="bold" textLength="9.4" lengthAdjust="spacingAndGlyphs" fill="#1a1a1a">***</text>
<text x="300.00" y="376.20" font-size="9.2" text-anchor="middle" font-weight="bold" textLength="9.4" lengthAdjust="spacingAndGlyphs" fill="#1a1a1a">***</text>
<text x="319.60" y="368.40" font-size="9.2" text-anchor="middle" font-weight="bold" textLength="9.4" lengthAdjust="spacingAndGlyphs" fill="#1a1a1a">***</text>
<text x="331.40" y="361.80" font-size="9.2" text-anchor="middle" font-weight="bold" textLength="9.4" lengthAdjust="spacingAndGlyphs" fill="#1a1a1a">***</text>
<text transform="translate(187.40 384.80) rotate(-90)" font-size="8.9" text-anchor="middle" textLength="91" lengthAdjust="spacingAndGlyphs" fill="#2c2c2c" stroke="#262626" stroke-width="0.25">Surface TF expression (MFI)</text>
<text x="278.60" y="453.40" font-size="9.2" text-anchor="middle" textLength="33.2" lengthAdjust="spacingAndGlyphs" fill="#2c2c2c" stroke="#262626" stroke-width="0.25">Time (hrs)</text>
<path d="M389.9 341.2V427.5H512.5" stroke="#1a1718" stroke-width="1.55" fill="none"/>
<path d="M386.29999999999995 427.50H389.9" stroke="#1a1718" stroke-width="1.2"/>
<text transform="translate(383.50 430.10) scale(0.94 1)" font-size="8.5" text-anchor="end" fill="#2c2c2c">0.0</text>
<path d="M386.29999999999995 399.75H389.9" stroke="#1a1718" stroke-width="1.2"/>
<text transform="translate(383.50 402.35) scale(0.94 1)" font-size="8.5" text-anchor="end" fill="#2c2c2c">0.5</text>
<path d="M386.29999999999995 372.00H389.9" stroke="#1a1718" stroke-width="1.2"/>
<text transform="translate(383.50 374.60) scale(0.94 1)" font-size="8.5" text-anchor="end" fill="#2c2c2c">1.0</text>
<path d="M386.29999999999995 344.25H389.9" stroke="#1a1718" stroke-width="1.2"/>
<text transform="translate(383.50 346.85) scale(0.94 1)" font-size="8.5" text-anchor="end" fill="#2c2c2c">1.5</text>
<path d="M405.50 427.5V430.6" stroke="#1a1718" stroke-width="1.3"/>
<text transform="translate(405.50 439.60) scale(0.94 1)" font-size="8.5" text-anchor="middle" fill="#2c2c2c">0</text>
<path d="M436.75 427.5V430.6" stroke="#1a1718" stroke-width="1.3"/>
<text transform="translate(436.75 439.60) scale(0.94 1)" font-size="8.5" text-anchor="middle" fill="#2c2c2c">2</text>
<path d="M468.00 427.5V430.6" stroke="#1a1718" stroke-width="1.3"/>
<text transform="translate(468.00 439.60) scale(0.94 1)" font-size="8.5" text-anchor="middle" fill="#2c2c2c">4</text>
<path d="M499.25 427.5V430.6" stroke="#1a1718" stroke-width="1.3"/>
<text transform="translate(499.25 439.60) scale(0.94 1)" font-size="8.5" text-anchor="middle" fill="#2c2c2c">6</text>
<path d="M399.70 426.00V425.20M397.40 425.20H402.00" stroke="#1a1718" stroke-width="1.25" fill="none"/>
<rect x="395.90" y="426.30" width="7.60" height="1.20" fill="#a8062e" stroke="#7c0a26" stroke-width="0.6"/>
<path d="M411.35 426.60V426.20M409.05 426.20H413.65" stroke="#1a1718" stroke-width="1.25" fill="none"/>
<rect x="407.20" y="426.60" width="8.30" height="0.90" fill="#2f4b7f"/>
<path d="M430.90 425.00V423.20M428.60 423.20H433.20" stroke="#1a1718" stroke-width="1.25" fill="none"/>
<rect x="427.10" y="425.30" width="7.60" height="2.20" fill="#a8062e" stroke="#7c0a26" stroke-width="0.6"/>
<path d="M442.88 396.30V394.00M440.57 394.00H445.18" stroke="#1a1718" stroke-width="1.25" fill="none"/>
<rect x="439.05" y="396.60" width="7.65" height="30.90" fill="#2f4b7f" stroke="#2a3b60" stroke-width="0.6"/>
<path d="M462.12 408.00V401.00M459.82 401.00H464.43" stroke="#1a1718" stroke-width="1.25" fill="none"/>
<rect x="458.30" y="408.30" width="7.65" height="19.20" fill="#a8062e" stroke="#7c0a26" stroke-width="0.6"/>
<path d="M474.12 355.50V350.50M471.82 350.50H476.43" stroke="#1a1718" stroke-width="1.25" fill="none"/>
<rect x="470.30" y="355.80" width="7.65" height="71.70" fill="#2f4b7f" stroke="#2a3b60" stroke-width="0.6"/>
<path d="M493.38 387.50V381.30M491.07 381.30H495.68" stroke="#1a1718" stroke-width="1.25" fill="none"/>
<rect x="489.55" y="387.80" width="7.65" height="39.70" fill="#a8062e" stroke="#7c0a26" stroke-width="0.6"/>
<path d="M505.02 368.80V362.00M502.72 362.00H507.32" stroke="#1a1718" stroke-width="1.25" fill="none"/>
<rect x="501.05" y="369.10" width="7.95" height="58.40" fill="#2f4b7f" stroke="#2a3b60" stroke-width="0.6"/>
<text x="443.00" y="394.40" font-size="9.2" text-anchor="middle" font-weight="bold" textLength="9.4" lengthAdjust="spacingAndGlyphs" fill="#1a1a1a">***</text>
<text x="462.00" y="401.80" font-size="9.2" text-anchor="middle" font-weight="bold" fill="#1a1a1a">*</text>
<text x="473.80" y="351.60" font-size="9.2" text-anchor="middle" font-weight="bold" textLength="9.4" lengthAdjust="spacingAndGlyphs" fill="#1a1a1a">***</text>
<text x="493.30" y="382.20" font-size="9.2" text-anchor="middle" font-weight="bold" textLength="9.4" lengthAdjust="spacingAndGlyphs" fill="#1a1a1a">***</text>
<text x="505.00" y="362.20" font-size="9.2" text-anchor="middle" font-weight="bold" textLength="9.4" lengthAdjust="spacingAndGlyphs" fill="#1a1a1a">***</text>
<text transform="translate(355.60 385.00) rotate(-90)" font-size="8.9" text-anchor="middle" textLength="58" lengthAdjust="spacingAndGlyphs" fill="#2c2c2c" stroke="#262626" stroke-width="0.25">Surface TF activity</text>
<text transform="translate(367.60 384.40) rotate(-90)" font-size="8.9" text-anchor="middle" textLength="46.6" lengthAdjust="spacingAndGlyphs" fill="#2c2c2c" stroke="#262626" stroke-width="0.25">(nM fXa/min)</text>
<text x="452.90" y="453.40" font-size="9.2" text-anchor="middle" textLength="33.4" lengthAdjust="spacingAndGlyphs" fill="#2c2c2c" stroke="#262626" stroke-width="0.25">Time (hrs)</text>
<path d="M0 0H520V462H0Z M1.2 1.2V460.4H518.65V1.2Z" fill="#0a0a0a" fill-rule="evenodd"/>
</svg></body></html>
